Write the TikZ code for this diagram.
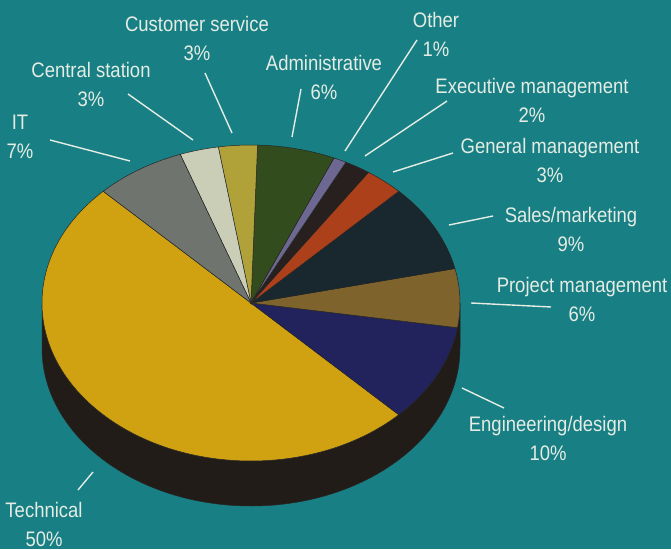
\documentclass[tikz,border=0pt]{standalone}
\usepackage{fontspec}
\setmainfont[FakeStretch=0.88]{Liberation Sans}
\definecolor{bgteal}{RGB}{24,128,132}
\definecolor{labelwhite}{RGB}{228,236,228}
\definecolor{sideblack}{RGB}{34,28,25}
\definecolor{techyellow}{RGB}{208,162,18}
\definecolor{engblue}{RGB}{34,34,92}
\definecolor{projbrown}{RGB}{126,100,44}
\definecolor{salesdark}{RGB}{24,40,46}
\definecolor{genorange}{RGB}{172,64,26}
\definecolor{execdark}{RGB}{40,32,30}
\definecolor{otherlilac}{RGB}{108,104,146}
\definecolor{admingreen}{RGB}{50,76,30}
\definecolor{custolive}{RGB}{176,162,56}
\definecolor{centrallight}{RGB}{202,206,182}
\definecolor{itgray}{RGB}{112,116,110}
\newcommand\pieslice[3]{\filldraw[slice,fill=#3] (c) -- ++(#1:209 and 158)
  arc[start angle=#1,end angle=#2,x radius=209,y radius=158] -- cycle;}

\begin{document}
\begin{tikzpicture}[x=1pt,y=1pt,
			every node/.style = {text=labelwhite, align=center, inner sep=0pt,
				font=\fontsize{21}{29}\selectfont},
			slice/.style = {draw=black!85, line width=0.5pt},
			leader/.style = {draw=labelwhite, line width=1.4pt}]
			\fill[bgteal] (0,0) rectangle (671,549);
			\coordinate (c) at (251,246);
			% side of the pie
			\filldraw[slice,fill=sideblack] (c) ++(180:209 and 158) arc[start angle=180,end angle=360,x radius=209,y radius=158] -- ++(0,-45) arc[start angle=360,end angle=180,x radius=209,y radius=158] -- cycle;
			% top of the pie
			\pieslice{135}{315}{techyellow}
			\pieslice{-45}{-9}{engblue}
			\pieslice{-9}{12.6}{projbrown}
			\pieslice{12.6}{45}{salesdark}
			\pieslice{45}{55.8}{genorange}
			\pieslice{55.8}{63}{execdark}
			\pieslice{63}{66.6}{otherlilac}
			\pieslice{66.6}{88.2}{admingreen}
			\pieslice{88.2}{99}{custolive}
			\pieslice{99}{109.8}{centrallight}
			\pieslice{109.8}{135}{itgray}
			% labels
			\node (cust) at (197,510.5) {Customer service\\3\%};
			\node (central) at (91,465) {Central station\\3\%};
			\node (it) at (20,412) {IT\\7\%};
			\node (admin) at (324,472) {Administrative\\6\%};
			\node (other) at (436,515) {Other\\1\%};
			\node (exec) at (532,449) {Executive management\\2\%};
			\node (gen) at (550,389) {General management\\3\%};
			\node (sales) at (571,319.5) {Sales/marketing\\9\%};
			\node (proj) at (582,250) {Project management\\6\%};
			\node (eng) at (548,110.5) {Engineering/design\\10\%};
			\node (tech) at (44,25) {Technical\\50\%};
			% leader lines
			\coordinate (cust-a) at (205,476); \coordinate (cust-b) at (232,416);
			\coordinate (central-a) at (128,455); \coordinate (central-b) at (193,409);
			\coordinate (it-a) at (50,409); \coordinate (it-b) at (130,388);
			\coordinate (admin-a) at (301,460); \coordinate (admin-b) at (292,412);
			\coordinate (other-a) at (417,509); \coordinate (other-b) at (345,398);
			\coordinate (exec-a) at (447,448); \coordinate (exec-b) at (365,393);
			\coordinate (gen-a) at (453,396); \coordinate (gen-b) at (393,377);
			\coordinate (sales-a) at (493,333); \coordinate (sales-b) at (449,324);
			\coordinate (proj-a) at (551,242); \coordinate (proj-b) at (471,246);
			\coordinate (eng-a) at (504,141); \coordinate (eng-b) at (462,161);
			\coordinate (tech-a) at (78,59); \coordinate (tech-b) at (93,77);
			\draw[leader] (cust-a) -- (cust-b);
			\draw[leader] (central-a) -- (central-b);
			\draw[leader] (it-a) -- (it-b);
			\draw[leader] (admin-a) -- (admin-b);
			\draw[leader] (other-a) -- (other-b);
			\draw[leader] (exec-a) -- (exec-b);
			\draw[leader] (gen-a) -- (gen-b);
			\draw[leader] (sales-a) -- (sales-b);
			\draw[leader] (proj-a) -- (proj-b);
			\draw[leader] (eng-a) -- (eng-b);
			\draw[leader] (tech-a) -- (tech-b);
\end{tikzpicture}
\end{document}
